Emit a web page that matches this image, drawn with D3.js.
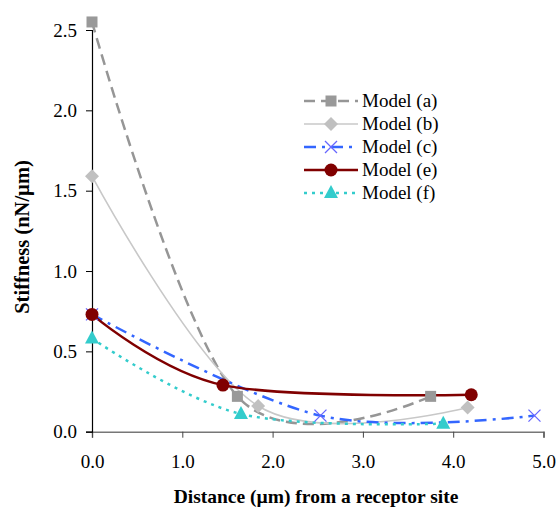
<!DOCTYPE html>
<html>
<head>
<meta charset="utf-8">
<script src="https://cdn.jsdelivr.net/npm/d3@7"></script>
<style>
  body { margin: 0; background: #fff; }
  svg { display: block; font-family: "Liberation Serif", "Times New Roman", serif; }
</style>
</head>
<body>
<svg id="chart" width="559" height="508"></svg>
<script>
// data (distance in um, stiffness in nN/um)
const modelA = [[0, 2.55], [1.61, 0.22], [3.75, 0.22]];
const modelB = [[0, 1.59], [1.84, 0.16], [4.16, 0.15]];
const modelC = [[0, 0.73], [2.53, 0.10], [4.9, 0.10]];
const modelE = [[0, 0.73], [1.45, 0.29], [4.2, 0.23]];
const modelF = [[0, 0.58], [1.65, 0.11], [3.89, 0.05]];

const xTicks = [0, 1, 2, 3, 4, 5];
const yTicks = [0, 0.5, 1.0, 1.5, 2.0, 2.5];

const series = [
  { name: "Model (a)", data: modelA, color: "#969696", width: 2.5, dash: "11,6", marker: "square", mcolor: "#999999" },
  { name: "Model (b)", data: modelB, color: "#c8c8c8", width: 1.6, dash: null, marker: "diamond", mcolor: "#c0c0c0" },
  { name: "Model (c)", data: modelC, color: "#3366ff", width: 2.5, dash: "12,6,3,6", marker: "cross", mcolor: "#6666ff" },
  { name: "Model (e)", data: modelE, color: "#800000", width: 2.5, dash: null, marker: "circle", mcolor: "#800000" },
  { name: "Model (f)", data: modelF, color: "#33cccc", width: 2.5, dash: "3,5", marker: "triangle", mcolor: "#33cccc" }
];

const margin = { top: 30, right: 16, bottom: 76, left: 92 };
const width = 543.5 - margin.left, height = 431.7 - margin.top;

const svg = d3.select("#chart");
const g = svg.append("g").attr("transform", `translate(${margin.left},${margin.top})`);

const x = d3.scaleLinear().domain([0, 5]).range([0, width]);
const y = d3.scaleLinear().domain([0, 2.5]).range([height, 0]);

// axes
const xAxis = g.append("g")
  .attr("transform", `translate(0,${height})`)
  .call(d3.axisBottom(x).tickValues(xTicks).tickFormat(d3.format(".1f")).tickSizeOuter(0).tickSize(6).tickPadding(17));
xAxis.select(".domain").attr("stroke", "#777").attr("stroke-width", 1.5);
xAxis.selectAll(".tick line").attr("stroke", "#444");
xAxis.selectAll("text").attr("font-size", 19).attr("font-family", "Liberation Serif").attr("fill", "#000");

const yAxis = g.append("g")
  .call(d3.axisLeft(y).tickValues(yTicks).tickFormat(d3.format(".1f")).tickSizeOuter(0).tickSize(6).tickPadding(9));
yAxis.select(".domain").attr("stroke", "#000").attr("stroke-width", 1.2);
yAxis.selectAll("text").attr("font-size", 19).attr("font-family", "Liberation Serif").attr("fill", "#000");

// axis titles
svg.append("text")
  .attr("x", 316).attr("y", 503)
  .attr("text-anchor", "middle")
  .attr("font-size", 19.5).attr("font-weight", "bold")
  .text("Distance (\u00b5m) from a receptor site");

svg.append("text")
  .attr("transform", "translate(29,237) rotate(-90)")
  .attr("text-anchor", "middle")
  .attr("font-size", 20.5).attr("font-weight", "bold")
  .text("Stiffness (nN/\u00b5m)");

// smoothed lines like the spreadsheet's "smoothed line" option
const line = d3.line()
  .x(d => x(d[0]))
  .y(d => y(d[1]))
  .curve(d3.curveCardinal.tension(0));

function drawMarker(sel, type, color) {
  if (type === "square") {
    sel.append("rect").attr("x", -5.5).attr("y", -5.5).attr("width", 11).attr("height", 11).attr("fill", color);
  } else if (type === "diamond") {
    sel.append("path").attr("d", "M0,-7L7,0L0,7L-7,0Z").attr("fill", color);
  } else if (type === "cross") {
    sel.append("path").attr("d", "M-6,-6L6,6M-6,6L6,-6").attr("stroke", color).attr("stroke-width", 1.3).attr("fill", "none");
  } else if (type === "circle") {
    sel.append("circle").attr("r", 6.5).attr("fill", color);
  } else if (type === "triangle") {
    sel.append("path").attr("d", "M0,-8L7,5L-7,5Z").attr("fill", color);
  }
}

const plot = g.append("g");
series.forEach(s => {
  plot.append("path")
    .datum(s.data)
    .attr("fill", "none")
    .attr("stroke", s.color)
    .attr("stroke-width", s.width)
    .attr("stroke-dasharray", s.dash)
    .attr("d", line);
});
series.forEach(s => {
  s.data.forEach(d => {
    const m = plot.append("g").attr("transform", `translate(${x(d[0])},${y(d[1])})`);
    drawMarker(m, s.marker, s.mcolor);
  });
});

// legend
const legend = svg.append("g").attr("transform", "translate(304,101)");
series.forEach((s, i) => {
  const row = legend.append("g").attr("transform", `translate(0,${i * 23})`);
  row.append("line")
    .attr("x1", 0).attr("x2", 54).attr("y1", 0).attr("y2", 0)
    .attr("stroke", s.color).attr("stroke-width", s.width)
    .attr("stroke-dasharray", s.dash);
  const m = row.append("g").attr("transform", "translate(27,0)");
  drawMarker(m, s.marker, s.mcolor);
  row.append("text")
    .attr("x", 58).attr("y", 6)
    .attr("font-size", 19)
    .text(s.name);
});
</script>
</body>
</html>
